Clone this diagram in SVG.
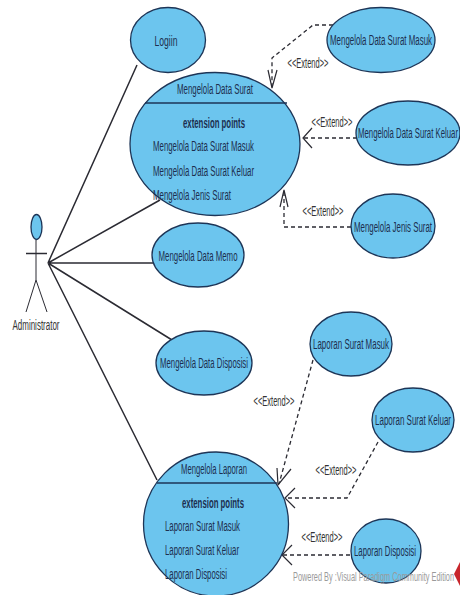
<svg xmlns="http://www.w3.org/2000/svg" width="460" height="595" viewBox="0 0 460 595">
<style>
.uc{fill:#6cc5ee;stroke:#1d3557;stroke-width:1.3}
.sep{stroke:#1d3557;stroke-width:1.6;fill:none}
text{font-family:"Liberation Sans",Arial,sans-serif;font-size:14px;fill:#1c2f4f}
.c{text-anchor:middle}
.b{font-weight:bold}
.as{stroke:#2b2b33;stroke-width:1.5;fill:none}
.d{stroke:#2b2b33;stroke-width:1.3;fill:none;stroke-dasharray:4 3}
.ah{stroke:#2b2b33;stroke-width:1.2;fill:none}
.l{fill:#333}
</style>
<rect width="460" height="595" fill="#fff"/>
<g id="connectors">
<path class="as" d="M48 263L137 65M48 263L160 200M48 263L153 263M48 263L172 340M48 263L157 480"/>
<path class="d" d="M333 25H313L272 58V88"/><path class="ah" d="M268 70L272 88L277 70"/>
<path class="d" d="M357 138H304"/><path class="ah" d="M312 128L303 138L312 148"/>
<path class="d" d="M351 227H284V190"/><path class="ah" d="M280 207L284 190L288 207"/>
<path class="d" d="M313 360L279 484"/><path class="ah" d="M291 469L278 485L277 468"/>
<path class="d" d="M378 442L347 498H286"/><path class="ah" d="M295 488L285 498L295 508"/>
<path class="d" d="M350 555H283"/><path class="ah" d="M292 545L282 555L292 565"/>
</g>
<g id="actor">
<ellipse class="uc" cx="36.500" cy="227" rx="5.500" ry="12.500"/>
<path class="as" style="stroke-width:1" d="M36 240V280L26 312M36 280L47 312"/>
<path class="as" d="M26 253.500H47"/>
<text class="c l" x="36" y="330" textLength="47" lengthAdjust="spacingAndGlyphs">Administrator</text>
</g>
<g id="login"><ellipse class="uc" cx="168" cy="40" rx="37.500" ry="32.500"/><text class="c" x="166" y="46" textLength="23" lengthAdjust="spacingAndGlyphs">Logiin</text></g>
<g id="surat"><ellipse class="uc" cx="215" cy="144" rx="85" ry="71.500"/><path class="sep" d="M145 103H287"/>
<text class="c" x="215" y="94" textLength="76" lengthAdjust="spacingAndGlyphs">Mengelola Data Surat</text>
<text class="c b" x="214" y="128" textLength="62" lengthAdjust="spacingAndGlyphs">extension points</text>
<text x="153" y="151" textLength="101" lengthAdjust="spacingAndGlyphs">Mengelola Data Surat Masuk</text>
<text x="153" y="176" textLength="101" lengthAdjust="spacingAndGlyphs">Mengelola Data Surat Keluar</text>
<text x="153" y="200" textLength="78" lengthAdjust="spacingAndGlyphs">Mengelola Jenis Surat</text></g>
<g id="surat-masuk"><ellipse class="uc" cx="381" cy="40" rx="54" ry="32.500"/><text class="c" x="381" y="45" textLength="102" lengthAdjust="spacingAndGlyphs">Mengelola Data Surat Masuk</text></g>
<g id="surat-keluar"><ellipse class="uc" cx="408" cy="133" rx="52" ry="32"/><text class="c" x="408" y="138" textLength="100" lengthAdjust="spacingAndGlyphs">Mengelola Data Surat Keluar</text></g>
<g id="jenis-surat"><ellipse class="uc" cx="393" cy="226" rx="42" ry="32"/><text class="c" x="393" y="232" textLength="78" lengthAdjust="spacingAndGlyphs">Mengelola Jenis Surat</text></g>
<g id="memo"><ellipse class="uc" cx="198" cy="255" rx="46" ry="32"/><text class="c" x="198" y="261" textLength="79" lengthAdjust="spacingAndGlyphs">Mengelola Data Memo</text></g>
<g id="disposisi"><ellipse class="uc" cx="204" cy="363" rx="48" ry="32"/><text class="c" x="204" y="368" textLength="88" lengthAdjust="spacingAndGlyphs">Mengelola Data Disposisi</text></g>
<g id="lap-masuk"><ellipse class="uc" cx="351" cy="344" rx="41" ry="32"/><text class="c" x="351" y="349" textLength="76" lengthAdjust="spacingAndGlyphs">Laporan Surat Masuk</text></g>
<g id="lap-keluar"><ellipse class="uc" cx="413" cy="420" rx="41" ry="32"/><text class="c" x="413" y="425" textLength="76" lengthAdjust="spacingAndGlyphs">Laporan Surat Keluar</text></g>
<g id="laporan"><ellipse class="uc" cx="216" cy="524" rx="72.500" ry="72"/><path class="sep" d="M157 483H277"/>
<text class="c" x="214" y="474" textLength="66" lengthAdjust="spacingAndGlyphs">Mengelola Laporan</text>
<text class="c b" x="213" y="508" textLength="62" lengthAdjust="spacingAndGlyphs">extension points</text>
<text x="165" y="531" textLength="75" lengthAdjust="spacingAndGlyphs">Laporan Surat Masuk</text>
<text x="165" y="555" textLength="74" lengthAdjust="spacingAndGlyphs">Laporan Surat Keluar</text>
<text x="165" y="579" textLength="62" lengthAdjust="spacingAndGlyphs">Laporan Disposisi</text></g>
<g id="lap-disposisi"><ellipse class="uc" cx="386" cy="551" rx="35" ry="32"/><text class="c" x="385" y="556" textLength="62" lengthAdjust="spacingAndGlyphs">Laporan Disposisi</text></g>
<g id="labels">
<text class="c l" x="308" y="68" textLength="41" lengthAdjust="spacingAndGlyphs">&lt;&lt;Extend&gt;&gt;</text>
<text class="c l" x="332" y="127" textLength="41" lengthAdjust="spacingAndGlyphs">&lt;&lt;Extend&gt;&gt;</text>
<text class="c l" x="323" y="216" textLength="41" lengthAdjust="spacingAndGlyphs">&lt;&lt;Extend&gt;&gt;</text>
<text class="c l" x="274" y="406" textLength="41" lengthAdjust="spacingAndGlyphs">&lt;&lt;Extend&gt;&gt;</text>
<text class="c l" x="336" y="475" textLength="41" lengthAdjust="spacingAndGlyphs">&lt;&lt;Extend&gt;&gt;</text>
<text class="c l" x="322" y="542" textLength="41" lengthAdjust="spacingAndGlyphs">&lt;&lt;Extend&gt;&gt;</text>
</g>
<g id="watermark">
<text x="293" y="581" textLength="161" lengthAdjust="spacingAndGlyphs" style="fill:#9a9a9a;font-size:13px">Powered By :Visual Paradigm Community Edition</text>
<path d="M460 562L454 574L460 586Z" fill="#c8262c"/>
</g>
</svg>
